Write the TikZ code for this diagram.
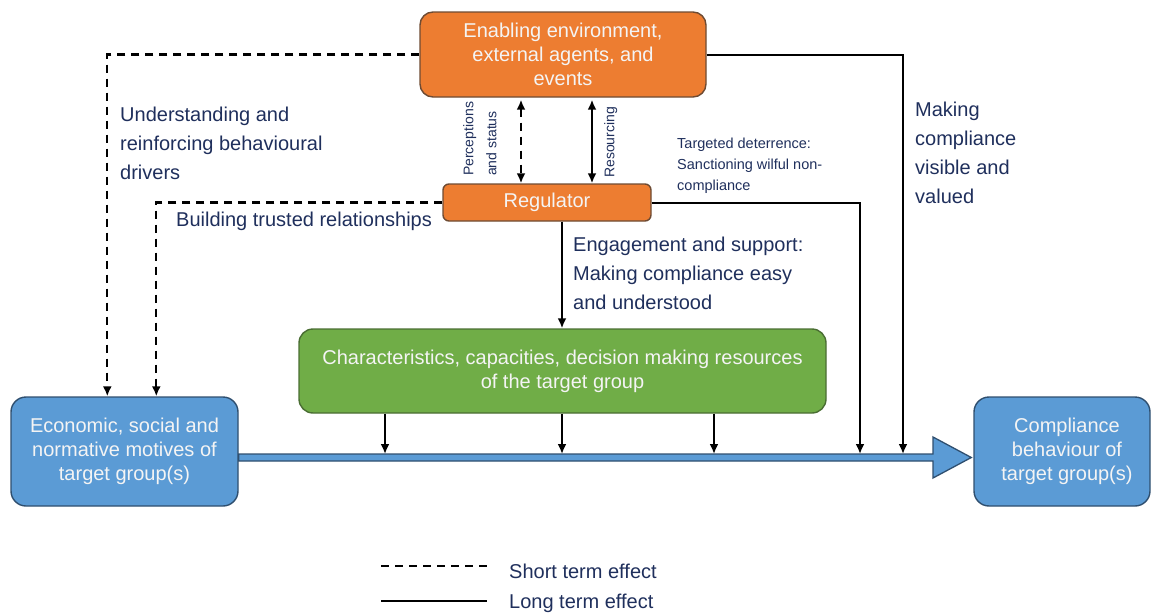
\documentclass[tikz,border=0pt]{standalone}
\usepackage{fontspec}
\setmainfont{Liberation Sans}
\usetikzlibrary{arrows.meta,calc}
\definecolor{ofill}{HTML}{ED7D31}
\definecolor{obrd}{HTML}{6E4B33}
\definecolor{gfill}{HTML}{70AD47}
\definecolor{gbrd}{HTML}{4A6E33}
\definecolor{bfill}{HTML}{5B9BD5}
\definecolor{bbrd}{HTML}{2F4F6F}
\definecolor{navy}{HTML}{1F2F5C}
\definecolor{boxtext}{HTML}{F4F4F4}
\begin{document}
\begin{tikzpicture}[x=1pt,y=-1pt,
  box/.style={line width=1.4pt, text=boxtext, align=center, inner sep=0pt,
    font=\fontsize{20}{24}\selectfont},
  obox/.style={box, draw=obrd, fill=ofill},
  gbox/.style={box, draw=gbrd, fill=gfill},
  bbox/.style={box, draw=bbrd, fill=bfill, rounded corners=15pt,
    minimum width=#1, minimum height=109pt},
  lbl/.style={text=navy, align=left, inner sep=0pt,
    font=\fontsize{20}{29}\selectfont},
  smalllbl/.style={text=navy, align=left, inner sep=0pt,
    font=\fontsize{14.5}{21}\selectfont},
  rotlbl/.style={text=navy, align=left, inner sep=0pt, rotate=90,
    font=\fontsize{14}{23}\selectfont},
  tip/.tip={Latex[length=10pt,width=9pt]},
  longfx/.style={line width=2pt, draw=black},
  shortfx/.style={line width=2.1pt, draw=black, dash pattern=on 8pt off 6pt},
]
\useasboundingbox (0,0) rectangle (1152,613);

% boxes
\node[obox, rounded corners=13pt, minimum width=286pt, minimum height=85pt]
  (env) at (563,54.5) {Enabling environment,\\external agents, and\\events};
\node[obox, rounded corners=6pt, minimum width=208pt, minimum height=37pt]
  (reg) at (547,202.5) {Regulator};
\node[gbox, rounded corners=14pt, minimum width=527pt, minimum height=84pt]
  (tg) at (562.5,371) {Characteristics, capacities, decision making resources\\of the target group};
\node[bbox=227pt] (mot) at (124.5,451.5) {Economic, social and\\normative motives of\\target group(s)};
\node[bbox=176pt] (cb) at (1062,451.5) {\hspace*{10pt}Compliance\\\hspace*{10pt}behaviour of\\\hspace*{10pt}target group(s)};

% main flow arrow from motives to behaviour
\coordinate (shT) at (mot.east |- 0,454);
\coordinate (shB) at (mot.east |- 0,461);
\coordinate (tipP) at ($(cb.west |- 0,457.5)+(-2,0)$);
\draw[line width=1.3pt, draw=bbrd, fill=bfill, line join=miter]
  (shT) -- (shT -| 933,0) -- (933,437) -- (tipP) -- (933,478)
  -- (shB -| 933,0) -- (shB) -- cycle;

% influences of the target group on the flow
\foreach \x in {385,562,714}
  \draw[longfx, -tip] (tg.south -| \x,0) -- (shT -| \x,0);

% short term effects
\draw[shortfx, -tip] (env.west) -| ($(mot.north west)+(97,0)$);
\draw[shortfx, -tip] (reg.west) -| ($(mot.north west)+(146,0)$);
\draw[shortfx, tip-tip, shorten <=2pt] (env.south -| 521,0) -- (reg.north -| 521,0);

% long term effects
\draw[longfx, -tip] (env.east) -| (shT -| 903,0);
\draw[longfx, -tip] (reg.east) -| (shT -| 860,0);
\draw[longfx, tip-tip, shorten <=2pt] (env.south -| 592,0) -- (reg.north -| 592,0);
\draw[longfx, -tip] (reg.south -| 562,0) -- (tg.north -| 562,0);

% labels
\node[lbl, anchor=north west] (l1) at (120,107) {Understanding and\\reinforcing behavioural\\drivers};
\node[lbl, anchor=north west] (l2) at (176,212) {Building trusted relationships};
\node[lbl, anchor=north west] (l3) at (915,102) {Making\\compliance\\visible and\\valued};
\node[lbl, anchor=north west] (l4) at (573,237) {Engagement and support:\\Making compliance easy\\and understood};
\node[smalllbl, anchor=north west] (l5) at (677,137.5) {Targeted deterrence:\\Sanctioning wilful non-\\compliance};
\node[rotlbl, anchor=north west] (l6) at (463,176) {Perceptions\\and status};
\node[rotlbl, anchor=north west] (l7) at (604,178) {Resourcing};

% legend
\coordinate (ls1) at (381,566);
\coordinate (ls2) at (487,566);
\coordinate (ll1) at (381,601);
\coordinate (ll2) at (487,601);
\draw[shortfx] (ls1) -- (ls2);
\draw[longfx] (ll1) -- (ll2);
\node[lbl, anchor=base west] (lg1) at (509,578) {Short term effect};
\node[lbl, anchor=base west] (lg2) at (509,608) {Long term effect};
\end{tikzpicture}
\end{document}
